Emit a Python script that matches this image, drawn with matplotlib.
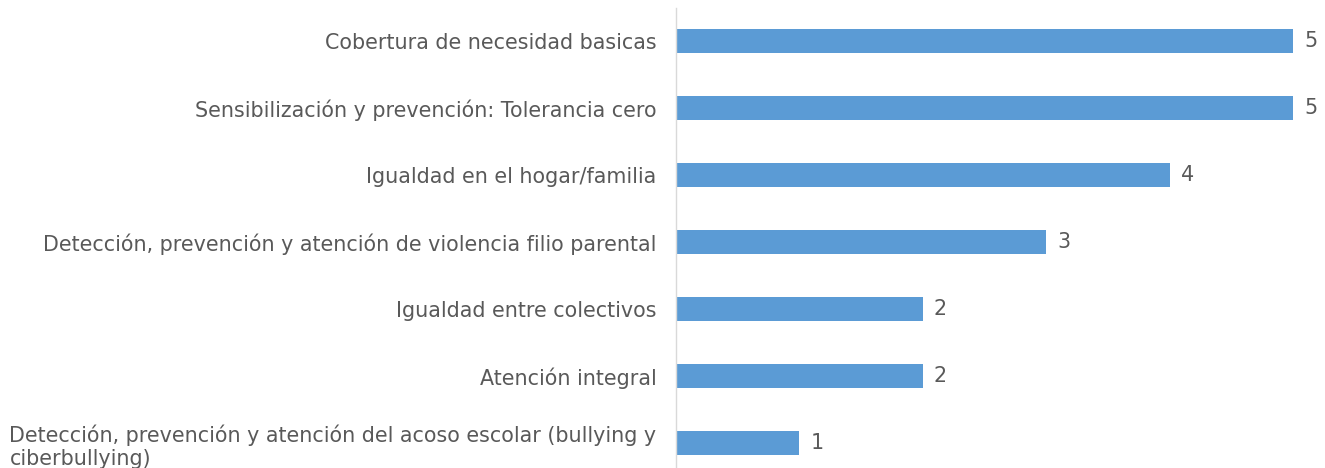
import matplotlib
matplotlib.use("Agg")
import matplotlib.pyplot as plt

categories = [
    "Cobertura de necesidad basicas",
    "Sensibilización y prevención: Tolerancia cero",
    "Igualdad en el hogar/familia",
    "Detección, prevención y atención de violencia filio parental",
    "Igualdad entre colectivos",
    "Atención integral",
    "Detección, prevención y atención del acoso escolar (bullying y\nciberbullying)",
]
values = [5, 5, 4, 3, 2, 2, 1]

W, H = 1325, 468
fig = plt.figure(figsize=(W / 100, H / 100), dpi=100)
left = 676 / W
ax = fig.add_axes([left, 0, 1 - left, (H - 8) / H])

text_color = "#595959"
bar_color = "#5B9BD5"
fs = 14.9
y = list(range(len(categories)))
ax.barh(y, values, height=0.36, color=bar_color)
ax.set_ylim(6 + (468 - 443) / 67, -(41 - 8) / 67)
ax.set_xlim(0, (W - 676) / 123.4)

ax.set_yticks(y)
ax.set_yticklabels(categories, fontsize=fs, color=text_color, family="DejaVu Sans",
                   linespacing=1.2)
for lab in ax.get_yticklabels():
    lab.set_horizontalalignment("right")
    lab.set_multialignment("left")
ax.tick_params(axis="y", length=0, pad=14)
ax.set_xticks([])
for s in ["top", "right", "bottom"]:
    ax.spines[s].set_visible(False)
ax.spines["left"].set_color("#D9D9D9")
ax.spines["left"].set_linewidth(1.0)

for yi, v in zip(y, values):
    ax.text(v + 0.09, yi, str(v), va="center", ha="left", fontsize=fs,
            color=text_color, family="DejaVu Sans")

fig.savefig("out.png", dpi=100)
